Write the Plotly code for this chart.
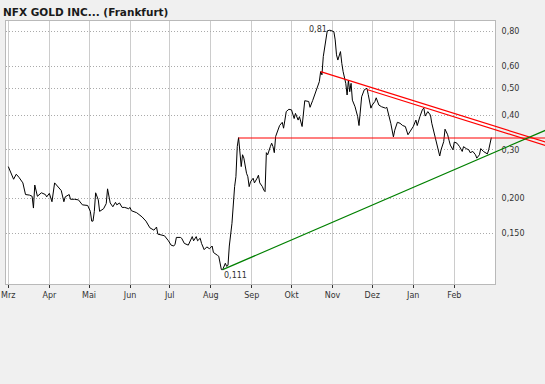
import numpy as np
import pandas as pd
import plotly.graph_objects as go

# ---------------- data ----------------
start_date = pd.Timestamp("2010-03-01")

day_offsets = [
    0, 4, 6, 8, 11, 13, 16, 18, 19, 20, 22, 25, 28, 29, 31, 33, 35, 37, 40, 42,
    43, 46, 47, 50, 53, 56, 60, 62, 63, 64, 65, 66, 68, 69, 72, 74, 75, 77, 79, 81,
    82, 84, 86, 88, 91, 92, 93, 97, 101, 104, 107, 110, 112, 113, 116, 118, 121, 123, 125, 126,
    127, 130, 131, 133, 136, 139, 140, 142, 143, 145, 146, 148, 150, 152, 154, 155, 158, 159, 161, 162,
    164, 165, 166, 167, 169, 170, 171, 172, 173, 174, 175, 176, 177, 178, 180, 181, 182, 183, 185, 186,
    188, 189, 190, 192, 193, 194, 195, 196, 198, 199, 200, 201, 202, 204, 205, 207, 208, 209, 210, 212,
    214, 216, 217, 219, 220, 222, 223, 224, 227, 228, 230, 233, 235, 236, 237, 238, 239, 240, 241, 243,
    246, 247, 248, 249, 251, 252, 253, 255, 256, 257, 258, 259, 260, 262, 264, 265, 266, 267, 269, 271,
    272, 274, 275, 277, 278, 280, 282, 285, 286, 288, 289, 291, 292, 294, 296, 298, 300, 302, 304, 306,
    308, 309, 311, 313, 314, 315, 317, 319, 320, 322, 324, 325, 326, 327, 329, 330, 332, 333, 334, 336,
    337, 339, 341, 343, 344, 346, 348, 349, 351, 353, 354, 356, 357, 359, 360, 362, 363, 365,
]

prices = [
    0.261, 0.235, 0.245, 0.239, 0.228, 0.207, 0.206, 0.204, 0.185, 0.224, 0.204, 0.210, 0.207, 0.203, 0.209, 0.195, 0.228, 0.222, 0.214, 0.195,
    0.203, 0.207, 0.199, 0.199, 0.198, 0.190, 0.189, 0.180, 0.166, 0.166, 0.180, 0.210, 0.198, 0.180, 0.184, 0.192, 0.217, 0.193, 0.187, 0.194,
    0.190, 0.193, 0.186, 0.186, 0.184, 0.186, 0.181, 0.178, 0.172, 0.166, 0.157, 0.154, 0.158, 0.149, 0.148, 0.147, 0.141, 0.136, 0.135, 0.137,
    0.145, 0.145, 0.144, 0.138, 0.136, 0.146, 0.141, 0.146, 0.141, 0.144, 0.138, 0.131, 0.134, 0.132, 0.135, 0.128, 0.125, 0.124, 0.111, 0.111,
    0.117, 0.114, 0.115, 0.135, 0.163, 0.198, 0.221, 0.240, 0.308, 0.332, 0.294, 0.261, 0.288, 0.280, 0.247, 0.240, 0.221, 0.230, 0.237, 0.228,
    0.237, 0.243, 0.228, 0.221, 0.215, 0.212, 0.293, 0.288, 0.308, 0.317, 0.308, 0.293, 0.335, 0.356, 0.367, 0.377, 0.359, 0.384, 0.412, 0.420,
    0.418, 0.389, 0.406, 0.384, 0.395, 0.364, 0.418, 0.451, 0.448, 0.427, 0.452, 0.494, 0.528, 0.574, 0.559, 0.650, 0.697, 0.767, 0.805, 0.810,
    0.800, 0.747, 0.660, 0.632, 0.678, 0.615, 0.574, 0.521, 0.473, 0.535, 0.486, 0.521, 0.453, 0.429, 0.395, 0.367, 0.412, 0.466, 0.494, 0.500,
    0.474, 0.424, 0.435, 0.448, 0.462, 0.435, 0.429, 0.424, 0.427, 0.395, 0.374, 0.334, 0.353, 0.377, 0.374, 0.367, 0.364, 0.340, 0.353, 0.364,
    0.384, 0.367, 0.395, 0.420, 0.424, 0.397, 0.412, 0.400, 0.374, 0.340, 0.317, 0.296, 0.285, 0.300, 0.321, 0.356, 0.340, 0.325, 0.312, 0.300,
    0.320, 0.317, 0.308, 0.296, 0.308, 0.303, 0.300, 0.293, 0.296, 0.288, 0.280, 0.288, 0.303, 0.296, 0.294, 0.290, 0.300, 0.332,
]

month_labels = ["Mrz", "Apr", "Mai", "Jun", "Jul", "Aug", "Sep", "Okt", "Nov", "Dez", "Jan", "Feb"]
price_ticks = [0.15, 0.20, 0.30, 0.40, 0.50, 0.60, 0.80]
price_tick_labels = ["0,150", "0,200", "0,30", "0,40", "0,50", "0,60", "0,80"]

# trend lines: day offsets and values at both ends
resistance_flat_days = [174, 406]
resistance_flat_values = [0.331, 0.331]
resistance_a_days = [236, 406]
resistance_a_values = [0.574, 0.320]
resistance_b_days = [271, 406]
resistance_b_values = [0.495, 0.311]
support_days = [162, 406]
support_values = [0.111, 0.353]

# ---------------- figure ----------------
def to_dates(days):
    return start_date + pd.to_timedelta(days, unit="D")

dates = to_dates(day_offsets)
month_ticks = pd.date_range("2010-03-01", periods=12, freq="MS")

W, H = 545, 384
font_family = "DejaVu Sans"
text_color = "#333333"
border_color = "#b9b9b9"

fig = go.Figure()

fig.add_trace(go.Scatter(
    x=dates, y=prices, mode="lines",
    line=dict(color="#000000", width=1),
    xaxis="x", yaxis="y", hoverinfo="skip",
))

for d, v, c in [
    (resistance_flat_days, resistance_flat_values, "#ff0000"),
    (resistance_a_days, resistance_a_values, "#ff0000"),
    (resistance_b_days, resistance_b_values, "#ff0000"),
    (support_days, support_values, "#008000"),
]:
    fig.add_trace(go.Scatter(
        x=to_dates(d), y=v, mode="lines",
        line=dict(color=c, width=1.2),
        xaxis="x2", yaxis="y2", hoverinfo="skip",
    ))

# axes geometry
x_left, x_right, x_far = 6 / W, 495 / W, 1.0
y_bot, y_top = (H - 284) / H, (H - 21) / H
range_start = start_date - pd.Timedelta(days=1.74)
range_end = start_date + pd.Timedelta(days=367.76)
range_end_far = start_date + pd.Timedelta(days=405.55)
y_range = [np.log10(0.0985), np.log10(0.874)]

tick_font = dict(family=font_family, size=8, color=text_color)

fig.update_layout(
    width=W, height=H,
    margin=dict(l=0, r=0, t=0, b=0),
    paper_bgcolor="#f0f0f0",
    plot_bgcolor="rgba(0,0,0,0)",
    showlegend=False,
    hovermode=False,
    title=dict(
        text="NFX GOLD INC... (Frankfurt)",
        font=dict(family=font_family, size=10.5, color="#1a1a1a", weight="bold"),
        x=3 / W, xanchor="left", xref="paper",
        y=1 - 12 / H, yanchor="middle", yref="container",
    ),
    xaxis=dict(
        domain=[x_left, x_right], range=[range_start, range_end],
        type="date", tickmode="array", tickvals=month_ticks, ticktext=month_labels,
        ticks="outside", ticklen=3, tickcolor="#333333", tickwidth=1,
        showgrid=True, gridcolor="#cccccc", gridwidth=1,
        showline=True, linecolor=border_color, linewidth=1, mirror=True,
        tickfont=tick_font, automargin=False, zeroline=False, anchor="y",
    ),
    yaxis=dict(
        domain=[y_bot, y_top], range=y_range, type="log", side="right",
        tickmode="array", tickvals=price_ticks, ticktext=price_tick_labels,
        ticks="", ticklabelstandoff=4,
        showgrid=True, gridcolor="#aaaaaa", gridwidth=1, griddash="1px,2px",
        showline=True, linecolor=border_color, linewidth=1, mirror=True,
        tickfont=tick_font, automargin=False, zeroline=False, anchor="x",
    ),
    xaxis2=dict(
        domain=[x_left, x_far], range=[range_start, range_end_far], type="date",
        visible=False, anchor="y2",
    ),
    yaxis2=dict(
        domain=[y_bot, y_top], range=y_range, type="log",
        visible=False, anchor="x2",
    ),
    shapes=[dict(
        type="rect", xref="x domain", yref="y domain", x0=0, x1=1, y0=0, y1=1,
        fillcolor="#ffffff", line=dict(width=0), layer="below",
    )],
)

i_max = int(np.argmax(prices))
i_min = int(np.argmin(prices))
fig.add_annotation(
    x=dates[i_max], y=np.log10(prices[i_max]), xref="x", yref="y",
    text=f"{prices[i_max]:.2f}".replace(".", ","), showarrow=False,
    xanchor="right", yanchor="middle", xshift=-1, yshift=1,
    font=tick_font,
)
fig.add_annotation(
    x=dates[i_min], y=np.log10(prices[i_min]), xref="x", yref="y",
    text=f"{prices[i_min]:.3f}".replace(".", ","), showarrow=False,
    xanchor="left", yanchor="middle", xshift=1, yshift=-6,
    font=tick_font,
)

fig.write_html(
    "out.html",
    config={"displayModeBar": False, "staticPlot": True},
    post_script="document.body.style.margin='0';document.body.style.background='#f0f0f0';",
)
